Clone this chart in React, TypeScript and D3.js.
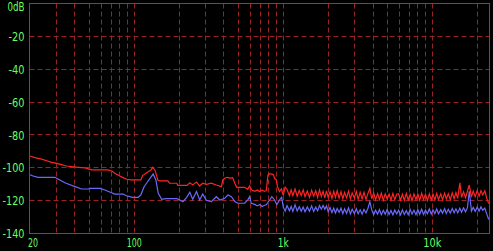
import React from "react";
import * as d3 from "d3";

const W = 493;
const H = 251;

// ---- tick labels ----
const yTicks = [0, -20, -40, -60, -80, -100, -120, -140];
const yTickLabels = ["0dB", "-20", "-40", "-60", "-80", "-100", "-120", "-140"];
const xLabelFreqs = [20, 100, 1000, 10000];
const xLabels = ["20", "100", "1k", "10k"];
const gridFreqs = [
  30, 40, 50, 60, 70, 80, 90, 100,
  200, 300, 400, 500, 600, 700, 800, 900, 1000,
  2000, 3000, 4000, 5000, 6000, 7000, 8000, 9000, 10000, 20000,
];
const gridLevels = [-20, -40, -60, -80, -100, -120];

// ---- red series, low band ----
const redFreqLow = [
  20, 21.6, 23.9, 25.9, 28, 30.2, 32.6, 35.1, 38, 42.2, 46.9, 49.2, 51.8, 66.8, 71.3, 74,
  80.2, 84.3, 88.8, 95, 111, 114, 118, 124, 129, 133, 137.6, 141, 144, 149, 168, 173, 193,
  196, 226, 236, 247, 262, 275, 288, 305, 329, 356, 385, 393, 405, 420, 440, 458, 473, 488,
  551, 577, 595, 614, 644, 670, 695, 720, 750, 770, 789, 810, 838, 860, 874, 900, 915, 943, 972,
];
const redLow = [
  -92.8, -93.8, -94.7, -95.7, -96.7, -97.3, -98.1, -98.9, -99.3, -99.7, -100.1, -100.7, -101.3, -101.3, -102.1, -103.4,
  -105, -106, -107, -107.4, -107.4, -104.6, -103.8, -102.4, -101.5, -99.7, -101.3, -104.5, -107.4, -108, -108, -109.4, -109.4,
  -110.7, -110.7, -109.1, -110.4, -108.7, -111.1, -109.4, -110.1, -109.4, -110.5, -111.5, -107.4, -106.4, -105.8, -106.3, -106.0, -109.4, -111.9,
  -111.9, -113.1, -111.0, -113.6, -114.3, -113.5, -114.5, -113.7, -114.4, -113.8, -104.4, -103.6, -103.9, -104.2, -106.4, -107.4, -111.5, -114.5, -112.8,
];

// ---- blue series, low band ----
const blueFreqLow = [
  20, 21, 22.6, 29.4, 31, 32.6, 34.3, 37.1, 40.1, 44.3, 49.2, 50.6, 59, 63.5, 70.5, 74, 84.3,
  88.8, 97.5, 106, 110.7, 116.5, 121, 127.6, 134, 139.8, 145, 153, 163, 193, 202, 212, 225,
  236, 247, 262, 275, 288, 305, 329, 356, 375, 405, 425, 449, 473, 495, 551, 580, 595, 610,
  644, 670, 695, 720, 750, 770, 810, 838, 874, 905, 943, 975,
];
const blueLow = [
  -104.2, -105, -105.8, -105.8, -107, -108, -109.1, -110.3, -111.5, -112.9, -112.9, -112.5, -112.5, -113.5, -115.2, -116, -116,
  -117, -118, -118, -116.6, -111.5, -109.4, -106.4, -103.8, -107.4, -115.5, -119.2, -118.8, -118.8, -119.6, -120.6, -118,
  -114.9, -119.2, -114.5, -119.6, -116, -119.8, -120.6, -117.6, -119.6, -118.6, -116.6, -117.6, -120.6, -121.6, -121.6, -119.4, -117.6, -121.6,
  -122.3, -123.2, -122.4, -123.6, -122.8, -122.5, -119.6, -117.6, -119.6, -122.5, -119.6, -118,
];

// ---- high band (shared frequencies) ----
const hfFreqs = [
  1000, 1030, 1060, 1100, 1130, 1160, 1200, 1240, 1280, 1320,
  1360, 1400, 1450, 1500, 1550, 1600, 1650, 1700, 1750, 1800,
  1850, 1900, 1950, 2000, 2060, 2120, 2180, 2240, 2300, 2370,
  2440, 2510, 2580, 2660, 2740, 2820, 2900, 3000, 3090, 3180,
  3280, 3380, 3480, 3590, 3700, 3810, 3920, 4040, 4160, 4290,
  4420, 4550, 4690, 4830, 4980, 5130, 5280, 5440, 5600, 5770,
  5940, 6120, 6300, 6490, 6690, 6890, 7100, 7310, 7530, 7760,
  7990, 8230, 8480, 8730, 9000, 9270, 9550, 9830, 10100, 10400,
  10700, 11000, 11400, 11700, 12100, 12400, 12800, 13200, 13600, 14000,
  14400, 14800, 15300, 15700, 16200, 16700, 17200, 17700, 18300, 18800,
  19400, 20000, 20600, 21200, 21800, 22500, 23200, 23900,
];
const redHigh = [
  -116.8, -111.8, -113.2, -117.0, -113.4, -116.9, -112.9, -117.3, -113.8, -116.9,
  -113.4, -117.6, -114.1, -118.0, -113.6, -117.3, -114.0, -118.1, -113.5, -117.5,
  -114.3, -118.3, -114.0, -117.9, -114.6, -118.6, -114.3, -118.0, -113.9, -118.4,
  -114.6, -118.8, -115.0, -118.3, -114.2, -118.9, -115.3, -118.4, -114.5, -119.1,
  -115.0, -118.9, -115.0, -119.3, -115.6, -112.5, -118.9, -115.2, -119.5, -115.7,
  -119.3, -115.5, -119.8, -115.9, -119.0, -116.0, -119.7, -115.6, -119.4, -116.1,
  -115.8, -119.7, -116.1, -119.9, -115.6, -119.5, -116.3, -120.0, -115.9, -119.4,
  -116.0, -119.8, -115.5, -119.3, -116.2, -119.9, -115.8, -119.5, -116.0, -119.6,
  -115.6, -119.3, -115.9, -119.6, -115.4, -118.9, -115.8, -119.4, -115.3, -118.8,
  -115.1, -118.6, -109.2, -118.1, -114.6, -118.2, -114.3, -110.5, -117.9, -114.2,
  -117.6, -113.9, -117.3, -113.9, -116.5, -114.0, -118.6, -121.8,
];
const blueHigh = [
  -123.8, -126.4, -123.0, -126.2, -123.6, -126.6, -122.6, -126.3, -123.7, -126.5,
  -123.9, -126.8, -123.8, -126.5, -123.2, -126.6, -124.0, -126.2, -123.0, -125.2,
  -122.9, -125.3, -123.2, -126.6, -124.2, -127.3, -124.6, -127.5, -124.8, -127.1,
  -124.6, -127.9, -125.0, -127.7, -124.4, -128.1, -125.2, -127.8, -124.9, -128.0,
  -125.6, -128.3, -125.3, -127.5, -124.6, -120.6, -125.5, -128.5, -125.8, -128.2,
  -125.5, -128.6, -125.9, -128.3, -125.3, -128.4, -126.0, -128.7, -125.7, -128.1,
  -125.8, -128.7, -125.6, -128.4, -126.1, -128.6, -125.4, -128.2, -125.9, -128.5,
  -125.5, -128.3, -125.2, -128.4, -125.8, -128.0, -125.1, -128.2, -125.6, -127.9,
  -125.1, -128.0, -125.5, -127.7, -124.9, -127.8, -125.3, -127.6, -124.8, -127.4,
  -125.0, -127.4, -124.6, -127.1, -124.4, -126.8, -124.3, -114.3, -126.4, -124.1,
  -126.5, -124.0, -126.3, -123.8, -125.8, -124.5, -128.2, -131.5,
];

const COLORS = {
  bg: "#000000",
  frame: "#d42020",
  grid: "#9a2222",
  text: "#66ff66",
  red: "#ff2424",
  blue: "#6a6aff",
};

const labelWidths: Record<string, number> = {
  "0dB": 17, "-20": 16, "-40": 16, "-60": 16, "-80": 16,
  "-100": 22, "-120": 22, "-140": 22,
  "20": 10, "100": 15, "1k": 11, "10k": 18,
};

export default function App() {
  const x = d3.scaleLog().domain([20, 24000]).range([30, 489]);
  const y = d3.scaleLinear().domain([-140, 0]).range([233.5, 3.5]);
  const px = (v: number) => Math.round(v - 0.5) + 0.5;

  const redPts: [number, number][] = [
    ...redFreqLow.map((f, i) => [f, redLow[i]] as [number, number]),
    ...hfFreqs.map((f, i) => [f, redHigh[i]] as [number, number]),
  ];
  const bluePts: [number, number][] = [
    ...blueFreqLow.map((f, i) => [f, blueLow[i]] as [number, number]),
    ...hfFreqs.map((f, i) => [f, blueHigh[i]] as [number, number]),
  ];
  const line = d3
    .line<[number, number]>()
    .x((d) => x(d[0]))
    .y((d) => y(d[1]));

  const left = 29.5, top = 3.5, right = 489.5, bottom = 233.5;
  const font = "'DejaVu Sans Condensed', 'DejaVu Sans', sans-serif";

  return (
    <div style={{ position: "fixed", left: 0, top: 0, width: W, height: H, background: COLORS.bg }}>
      <svg width={W} height={H} style={{ display: "block" }}>
        <rect x={0} y={0} width={W} height={H} fill={COLORS.bg} />
        <defs>
          <clipPath id="plot">
            <rect x={left} y={top} width={right - left} height={bottom - top} />
          </clipPath>
        </defs>
        {gridFreqs.map((f) => (
          <line key={"v" + f} x1={px(x(f))} x2={px(x(f))} y1={top} y2={bottom}
            stroke={COLORS.grid} strokeWidth={1} strokeDasharray="5,3" />
        ))}
        {gridLevels.map((v) => (
          <line key={"h" + v} x1={left} x2={right} y1={px(y(v))} y2={px(y(v))}
            stroke={COLORS.grid} strokeWidth={1} strokeDasharray="5,3" />
        ))}
        <g clipPath="url(#plot)">
          <path d={line(redPts) || ""} fill="none" stroke={COLORS.red} strokeWidth={1.2} />
          <path d={line(bluePts) || ""} fill="none" stroke={COLORS.blue} strokeWidth={1.2} />
        </g>
        <rect x={left} y={top} width={right - left} height={bottom - top}
          fill="none" stroke={COLORS.frame} strokeWidth={1} />
        {yTicks.map((v, i) => {
          const label = yTickLabels[i];
          const baseline = i === 0 ? 10.5 : y(v) + 4.6;
          return (
            <text key={"yl" + v} x={24.5} y={baseline} textAnchor="end" fill={COLORS.text}
              fontFamily={font} fontSize={12.5} textLength={labelWidths[label]}
              lengthAdjust="spacingAndGlyphs">
              {label}
            </text>
          );
        })}
        {xLabelFreqs.map((f, i) => {
          const label = xLabels[i];
          const w = labelWidths[label];
          const cx = i === 0 ? 28 + w / 2 : x(f);
          return (
            <text key={"xl" + f} x={cx - w / 2} y={247} fill={COLORS.text}
              fontFamily={font} fontSize={12.5} textLength={w} lengthAdjust="spacingAndGlyphs">
              {label}
            </text>
          );
        })}
      </svg>
    </div>
  );
}
